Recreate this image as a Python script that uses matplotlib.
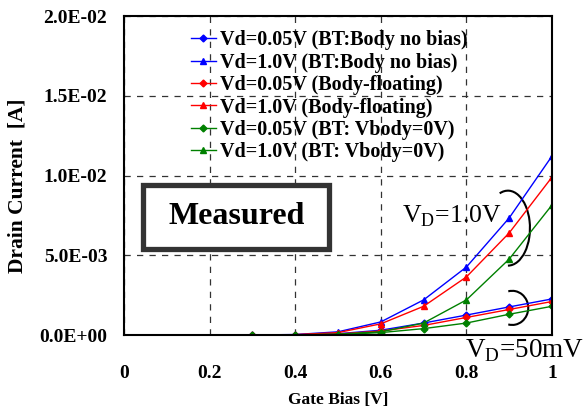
import numpy as np
import matplotlib
matplotlib.use("Agg")
import matplotlib.pyplot as plt
from matplotlib.patches import Arc, Rectangle

plt.rcParams['font.family'] = ['Liberation Serif', 'DejaVu Serif']
plt.rcParams['mathtext.fontset'] = 'custom'
plt.rcParams['mathtext.rm'] = 'Liberation Serif'

# gate bias [V]
vg = [0.3, 0.4, 0.5, 0.6, 0.7, 0.8, 0.9, 1.0]

# drain current [A]
bt_nobias_005 = [0.0, 0.00002, 0.00008, 0.0003, 0.00075, 0.00125, 0.00176, 0.00226]
bt_nobias_10 = [0.0, 0.00003, 0.0002, 0.00082, 0.0022, 0.00426, 0.00734, 0.01122]
floating_005 = [0.0, 0.00002, 0.00006, 0.00025, 0.0006, 0.0011, 0.0016, 0.0021]
floating_10 = [0.0, 0.00002, 0.00015, 0.0007, 0.0018, 0.00364, 0.0064, 0.0099]
bt_vbody0_005 = [0.0, 0.00001, 0.00003, 0.00015, 0.0004, 0.00075, 0.0013, 0.0018]
bt_vbody0_10 = [0.0, 0.00001, 0.00005, 0.0002, 0.00075, 0.0022, 0.00476, 0.00815]

series = [
    (bt_nobias_005, 'blue', 'D', 'Vd=0.05V (BT:Body no bias)'),
    (bt_nobias_10, 'blue', '^', 'Vd=1.0V (BT:Body no bias)'),
    (floating_005, 'red', 'D', 'Vd=0.05V (Body-floating)'),
    (floating_10, 'red', '^', 'Vd=1.0V (Body-floating)'),
    (bt_vbody0_005, 'green', 'D', 'Vd=0.05V (BT: Vbody=0V)'),
    (bt_vbody0_10, 'green', '^', 'Vd=1.0V (BT: Vbody=0V)'),
]

fig = plt.figure(figsize=(5.87, 4.15), dpi=100)
ax = fig.add_axes([124 / 587, 80 / 415, 428 / 587, 319 / 415])

for y, c, m, lab in series:
    ms = 3.5 if m == 'D' else 5
    ax.plot(vg, y, color=c, marker=m, ms=ms, lw=1.0, label=lab)

ax.set_xlim(0, 1)
ax.set_ylim(0, 0.02)
ax.set_xticks([0, 0.2, 0.4, 0.6, 0.8, 1])
ax.set_xticklabels(['0', '0.2', '0.4', '0.6', '0.8', '1'])
ax.set_yticks([0, 0.005, 0.01, 0.015, 0.02])
ax.set_yticklabels(['0.0E+00', '5.0E-03', '1.0E-02', '1.5E-02', '2.0E-02'])
ax.tick_params(length=0, labelsize=14)
ax.tick_params(axis='x', pad=21.5)
ax.tick_params(axis='y', pad=12)
for t in ax.get_xticklabels() + ax.get_yticklabels():
    t.set_fontweight('bold')
ax.grid(True, color='#333333', ls=(0, (5, 5)), lw=0.9)
for s in ax.spines.values():
    s.set_linewidth(1.5)

ax.set_xlabel('Gate Bias [V]', fontsize=12.5, fontweight='bold', labelpad=7)
ax.set_ylabel('Drain Current  [A]', fontsize=15.5, fontweight='bold', va='center')
ax.yaxis.set_label_coords(-0.248, 0.467)

leg = ax.legend(loc='upper left', bbox_to_anchor=(0.115, 1.012), frameon=False,
                prop={'family': 'Liberation Serif', 'weight': 'bold', 'size': 14.5},
                handlelength=1.2, handletextpad=0.2, labelspacing=0.12)

# "Measured" box
ax.add_patch(Rectangle((0.045, 0.27), 0.435, 0.2, transform=ax.transAxes,
                       fill=True, facecolor='white', edgecolor='#333333', lw=3.8,
                       zorder=5, clip_on=False))
ax.text(0.2625, 0.37, 'Measured', transform=ax.transAxes, fontsize=23,
        fontweight='bold', ha='center', va='center', zorder=6)

# V_D annotations
ax.text(0.65, 0.354, r'V$_\mathrm{D}$=1.0V', transform=ax.transAxes,
        fontsize=18.5, ha='left', va='baseline')
ax.text(0.797, -0.069, r'V$_\mathrm{D}$=50mV', transform=ax.transAxes,
        fontsize=19.5, ha='left', va='baseline', clip_on=False)

ax.add_patch(Arc((0.897, 0.335), 0.103, 0.235, theta1=-90, theta2=100,
                 transform=ax.transAxes, color='black', lw=1.5))
ax.add_patch(Arc((0.907, 0.085), 0.075, 0.107, theta1=-100, theta2=100,
                 transform=ax.transAxes, color='black', lw=1.5))

fig.savefig('out.png', dpi=100)
